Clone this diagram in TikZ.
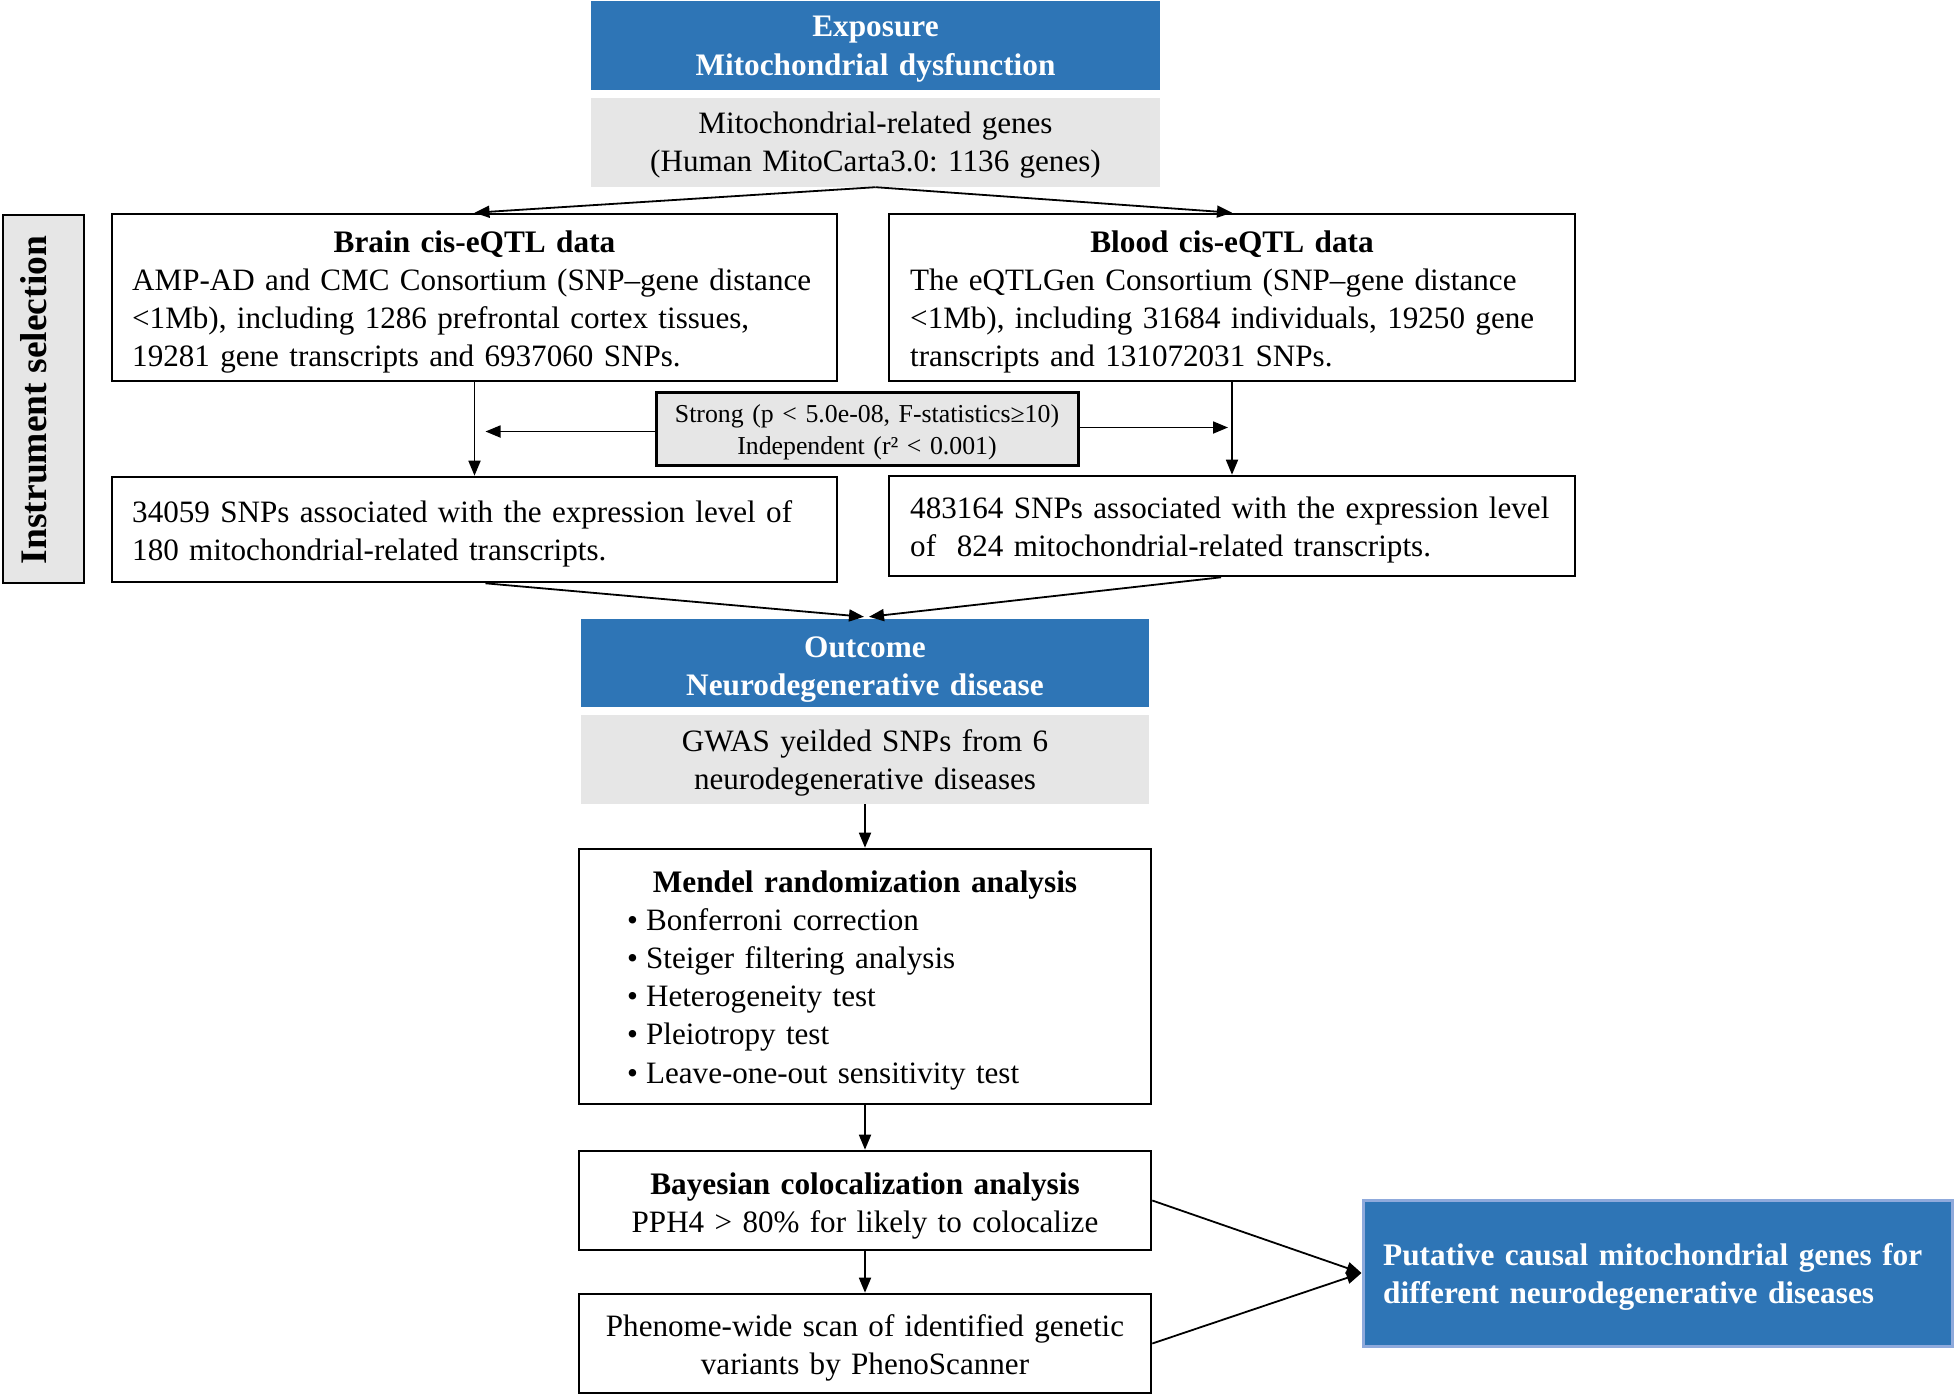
\documentclass[tikz,border=0pt]{standalone}
\usepackage{fontspec}
\setmainfont{Liberation Serif}
\usetikzlibrary{arrows.meta,calc}
\definecolor{mblue}{HTML}{2E75B6}
\definecolor{mgray}{HTML}{E6E6E6}
\definecolor{lblue}{HTML}{8FAADC}
\frenchspacing
\begin{document}
\frenchspacing
\begin{tikzpicture}[x=1pt,y=-1pt,
  box/.style={draw=black,line width=2.6pt,fill=white,inner sep=0pt,minimum width=#1},
  bluebox/.style={fill=mblue,inner sep=0pt,minimum width=#1},
  graybox/.style={fill=mgray,inner sep=0pt,minimum width=#1},
  txt/.style={inner sep=0pt,font=\fontsize{31.1}{38.3}\selectfont},
  btxt/.style={font=\fontsize{31.3}{38.3}\selectfont\bfseries},
  ctxt/.style={txt,anchor=base,align=center,text width=#1},
  ltxt/.style={txt,anchor=base west,align=left,text width=#1},
  arr/.style={line width=1.8pt,-{Triangle[length=15pt,width=12pt]}}
]
\useasboundingbox (0,0) rectangle (1954,1397);
% boxes
\node[bluebox=569,minimum height=89] (exp) at (875.5,45.5) {};
\node[graybox=569,minimum height=89] (mito) at (875.5,142.5) {};
\node[box=725,minimum height=167] (brain) at (474.5,297.5) {};
\node[box=686,minimum height=167] (blood) at (1232,297.5) {};
\node[box=81,minimum height=368,fill=mgray] (inst) at (43.5,399) {};
\node[box=422,minimum height=73,fill=mgray,line width=3pt] (strong) at (867,428.5) {};
\node[box=725,minimum height=105] (snp1) at (474.5,529.5) {};
\node[box=686,minimum height=100] (snp2) at (1232,526) {};
\node[bluebox=568,minimum height=88] (outc) at (865,663) {};
\node[graybox=568,minimum height=89] (gwas) at (865,759.5) {};
\node[box=572,minimum height=255] (mend) at (865,976.5) {};
\node[box=572,minimum height=99] (bay) at (865,1200.5) {};
\node[box=572,minimum height=99] (phen) at (865,1343.5) {};
\node[bluebox=589,minimum height=146,draw=lblue,line width=3pt] (put) at (1657.5,1273) {};
% texts
\node[ctxt=560,text=white,btxt] (expT) at (875.5,37) {Exposure\\Mitochondrial dysfunction};
\node[ctxt=560] (mitoT) at (875.5,133) {Mitochondrial-related genes\\(Human MitoCarta3.0: 1136 genes)};
\node[ctxt=700,btxt] (brainTi) at (474.5,252) {Brain cis-eQTL data};
\node[ltxt=700] (brainT) at (132,290) {AMP-AD and CMC Consortium (SNP--gene distance\\<1Mb), including 1286 prefrontal cortex tissues,\\19281 gene transcripts and 6937060 SNPs.};
\node[ctxt=660,btxt] (bloodTi) at (1232,252) {Blood cis-eQTL data};
\node[ltxt=660] (bloodT) at (910,290) {The eQTLGen Consortium (SNP--gene distance\\<1Mb), including 31684 individuals, 19250 gene\\transcripts and 131072031 SNPs.};
\node[ctxt=410,font=\fontsize{25.8}{32}\selectfont] (strongT) at (867,422) {Strong (p < 5.0e-08, F-statistics≥10)\\Independent (r² < 0.001)};
\node[ltxt=700] (snp1T) at (132,522) {34059 SNPs associated with the expression level of\\180 mitochondrial-related transcripts.};
\node[ltxt=660] (snp2T) at (910,518) {483164 SNPs associated with the expression level\\of\ \ 824 mitochondrial-related transcripts.};
\node[txt,rotate=90,font=\fontsize{37.5}{40}\selectfont\bfseries] (instT) at (33.5,400) {Instrument selection};
\node[ctxt=560,text=white,btxt] (outT) at (865,657) {Outcome\\Neurodegenerative disease};
\node[ctxt=560] (gwasT) at (865,751) {GWAS yeilded SNPs from 6\\neurodegenerative diseases};
\node[ctxt=560,btxt] (mendTi) at (865,892) {Mendel randomization analysis};
\node[ltxt=500] (mendT) at (627,930) {•\hspace{8pt}Bonferroni correction\\•\hspace{8pt}Steiger filtering analysis\\•\hspace{8pt}Heterogeneity test\\•\hspace{8pt}Pleiotropy test\\•\hspace{8pt}Leave-one-out sensitivity test};
\node[ctxt=560] (bayT) at (865,1194) {{\bfseries\fontsize{31.3}{38.3}\selectfont Bayesian colocalization analysis}\\PPH4 > 80\% for likely to colocalize};
\node[ctxt=560] (phenT) at (865,1336) {Phenome-wide scan of identified genetic\\variants by PhenoScanner};
\node[ltxt=560,text=white,btxt] (putT) at (1383,1265) {Putative causal mitochondrial genes for\\different neurodegenerative diseases};
% connectors
\draw[arr] (mito.south) -- (brain.north);
\draw[arr] (mito.south) -- (blood.north);
\draw[arr] (brain.south) -- (snp1.north);
\draw[arr] (blood.south) -- (snp2.north);
\draw[arr] ($(strong.west)+(0,3)$) -- ($(brain.south |- strong.west)+(11,3)$);
\draw[arr] ($(strong.east)+(0,-1)$) -- ($(blood.south |- strong.east)+(-4,-1)$);
\draw[arr] ($(snp1.south)+(11,0)$) -- ($(outc.north)+(-1,-2)$);
\draw[arr] ($(snp2.south)+(-11,0)$) -- ($(outc.north)+(4,-2)$);
\draw[arr] (gwas.south) -- (mend.north);
\draw[arr] (mend.south) -- (bay.north);
\draw[arr] (bay.south) -- (phen.north);
\draw[arr] (bay.east) -- (put.west);
\draw[arr] (phen.east) -- (put.west);
\end{tikzpicture}
\end{document}
